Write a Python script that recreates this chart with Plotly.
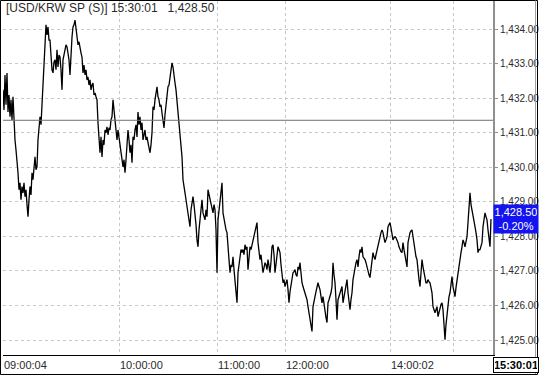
import plotly.graph_objects as go

# ---- data ----
prices = [
    1432.24, 1431.66, 1432.67, 1431.81, 1432.73, 1431.60, 1432.09, 1431.46, 1431.95, 1431.37,
    1432.04, 1431.08, 1430.79, 1430.50, 1430.22, 1429.84, 1429.35, 1429.55, 1429.06, 1429.44,
    1429.26, 1429.55, 1429.15, 1429.35, 1428.92, 1428.57, 1429.06, 1429.44, 1429.20, 1429.84,
    1429.64, 1430.07, 1430.30, 1429.93, 1430.01, 1430.79, 1431.08, 1431.46, 1431.23, 1431.86,
    1432.15, 1432.73, 1433.68, 1434.12, 1433.83, 1434.06, 1433.68, 1433.68, 1433.25, 1432.82,
    1432.73, 1433.05, 1433.11, 1432.82, 1433.40, 1432.90, 1433.25, 1433.19, 1432.82, 1432.24,
    1433.11, 1433.25, 1433.40, 1433.54, 1433.48, 1433.31, 1433.11, 1432.67, 1433.40, 1433.77,
    1434.06, 1434.12, 1434.26, 1433.97, 1433.77, 1433.54, 1433.63, 1433.40, 1433.31, 1433.19,
    1432.73, 1432.96, 1432.67, 1432.82, 1432.53, 1432.61, 1432.38, 1432.53, 1432.24, 1432.38,
    1432.44, 1432.09, 1432.15, 1432.04, 1431.95, 1431.29, 1430.79, 1430.42, 1430.88, 1430.30,
    1430.79, 1430.65, 1431.08, 1431.00, 1431.17, 1430.94, 1431.14, 1431.08, 1431.37, 1431.46,
    1431.95, 1431.66, 1431.37, 1430.94, 1430.79, 1431.08, 1430.88, 1430.59, 1430.36, 1430.22,
    1430.01, 1430.22, 1429.84, 1430.22, 1430.79, 1431.08, 1430.79, 1430.42, 1430.65, 1430.13,
    1430.88, 1430.79, 1431.08, 1431.23, 1430.88, 1431.60, 1431.23, 1431.46, 1431.08, 1431.29,
    1430.79, 1430.94, 1431.08, 1430.79, 1430.88, 1430.71, 1430.56, 1430.42, 1430.65, 1431.00,
    1431.75, 1431.66, 1431.95, 1432.09, 1432.33, 1432.04, 1431.95, 1431.75, 1431.81, 1431.57,
    1431.37, 1431.14, 1431.52, 1431.75, 1432.15, 1432.33, 1432.38, 1432.61, 1432.82, 1433.02,
    1432.90, 1432.73, 1432.44, 1432.24, 1431.95, 1431.57, 1431.29, 1431.08, 1430.79, 1430.30,
    1429.64, 1429.49, 1429.26, 1429.06, 1428.86, 1428.68, 1428.48, 1428.28, 1428.77, 1428.97,
    1429.15, 1428.92, 1428.68, 1428.34, 1427.90, 1427.70, 1428.19, 1428.48, 1428.77, 1429.06,
    1428.68, 1428.57, 1428.48, 1428.77, 1428.57, 1429.35, 1429.20, 1429.15, 1428.92, 1428.86,
    1428.68, 1428.92, 1428.77, 1428.19, 1426.95, 1428.48, 1428.77, 1428.97, 1429.20, 1429.55,
    1428.68, 1428.48, 1428.28, 1428.19, 1428.11, 1427.53, 1427.33, 1426.95, 1427.18, 1427.12,
    1427.41, 1427.04, 1426.66, 1426.46, 1426.08, 1426.95, 1427.18, 1427.41, 1427.62, 1427.53,
    1427.62, 1427.47, 1427.76, 1427.62, 1427.70, 1427.04, 1427.47, 1427.70, 1427.62, 1427.76,
    1427.90, 1428.05, 1428.19, 1428.25, 1428.40, 1427.82, 1427.62, 1427.33, 1427.47, 1427.12,
    1426.95, 1427.09, 1427.24, 1427.18, 1427.04, 1427.33, 1427.18, 1426.95, 1427.27, 1427.70,
    1427.76, 1427.47, 1426.95, 1427.27, 1427.62, 1427.70, 1427.62, 1427.53, 1427.18, 1426.84,
    1426.66, 1426.75, 1426.55, 1426.66, 1426.75, 1426.46, 1426.08, 1426.40, 1426.60, 1426.75,
    1426.95, 1426.98, 1427.04, 1426.89, 1426.84, 1427.12, 1427.04, 1427.24, 1426.89, 1426.66,
    1426.55, 1426.46, 1426.37, 1426.26, 1426.17, 1425.97, 1425.79, 1425.59, 1425.39, 1425.25,
    1425.97, 1426.17, 1426.26, 1426.40, 1426.55, 1426.66, 1426.55, 1426.46, 1426.26, 1426.08,
    1426.26, 1426.03, 1425.79, 1425.65, 1425.51, 1426.08, 1426.17, 1426.26, 1426.37, 1426.55,
    1427.24, 1426.89, 1426.66, 1426.17, 1425.59, 1426.17, 1426.26, 1426.37, 1426.46, 1426.55,
    1426.08, 1426.26, 1426.37, 1426.55, 1426.75, 1426.37, 1426.17, 1425.88, 1426.17, 1426.37,
    1426.75, 1426.95, 1427.12, 1427.24, 1427.33, 1427.12, 1427.41, 1427.62, 1427.53, 1427.70,
    1427.41, 1427.38, 1427.33, 1427.24, 1427.12, 1426.95, 1426.89, 1426.81, 1427.09, 1427.33,
    1427.53, 1427.41, 1427.33, 1427.47, 1427.62, 1427.70, 1427.82, 1427.99, 1428.11, 1428.19,
    1428.11, 1427.96, 1427.82, 1427.90, 1427.99, 1428.28, 1428.34, 1428.40, 1428.25, 1428.11,
    1427.90, 1427.96, 1427.99, 1427.96, 1427.90, 1427.82, 1427.70, 1427.62, 1427.56, 1427.53,
    1427.82, 1427.62, 1427.41, 1427.27, 1427.12, 1427.82, 1427.99, 1428.11, 1428.16, 1428.19,
    1427.99, 1427.76, 1427.53, 1427.41, 1427.33, 1426.95, 1426.75, 1426.55, 1426.95, 1427.33,
    1427.12, 1426.95, 1426.75, 1426.66, 1426.66, 1426.75, 1426.69, 1426.66, 1426.52, 1426.37,
    1425.97, 1425.88, 1425.79, 1425.88, 1425.97, 1425.68, 1425.82, 1425.97, 1426.03, 1426.08,
    1425.88, 1425.45, 1425.01, 1425.45, 1425.79, 1426.17, 1426.26, 1426.37, 1426.60, 1426.84,
    1426.55, 1426.40, 1426.26, 1426.52, 1426.75, 1426.84, 1427.09, 1427.33, 1427.53, 1427.70,
    1427.90, 1427.82, 1427.70, 1427.85, 1427.99, 1428.40, 1428.83, 1429.26, 1428.92, 1428.77,
    1428.68, 1428.48, 1428.28, 1428.11, 1427.90, 1427.53, 1427.62, 1427.62, 1427.70, 1427.82,
    1428.28, 1428.48, 1428.68, 1428.57, 1428.48, 1428.19, 1427.90, 1427.70, 1428.50,
]
prev_close = 1431.36
last_price = 1428.50
change_pct = -0.20
last_time = "15:30:01"
title_text = "[USD/KRW SP (S)] 15:30:01\u00a0\u00a0\u00a01,428.50"

time_tick_idx = [0, 116, 214, 282, 387, 450]
time_tick_labels = ["09:00:04", "10:00:00", "11:00:00", "12:00:00", "14:00:02", ""]
price_ticks = [1425, 1426, 1427, 1428, 1429, 1430, 1431, 1432, 1433, 1434]

# ---- layout geometry (pixels) ----
W, H = 539, 375
L, R, T, B = 3, 46, 1, 20
PW, PH = W - L - R, H - T - B

def px_x(px):
    return (px - L) / PW

def px_y(py):
    return (H - B - py) / PH

FONT = "Liberation Sans, Arial, sans-serif"
TXT = "#2a2a2a"

fig = go.Figure()
fig.add_trace(go.Scatter(
    x=list(range(len(prices))), y=prices, mode="lines",
    line=dict(color="#000000", width=1.3), hoverinfo="skip", showlegend=False,
))

fig.add_hline(y=prev_close, line=dict(color="#707070", width=1))

annotations = [
    dict(text=title_text, x=px_x(4), y=px_y(8), xref="paper", yref="paper",
         xanchor="left", yanchor="middle", showarrow=False,
         font=dict(family=FONT, size=12, color=TXT)),
    dict(text=f"{last_price:,.2f}<br>{change_pct:.2f}%", x=1, xref="paper", y=last_price, yref="y",
         xanchor="left", yanchor="middle", showarrow=False, align="center",
         bgcolor="#1414f0", borderpad=1, width=42,
         font=dict(family=FONT, size=11, color="#ffffff")),
    dict(text=f"<b>{last_time}</b>", x=1, xref="paper", y=px_y(364.5), yref="paper",
         xanchor="left", yanchor="middle", showarrow=False,
         bgcolor="#ffffff", bordercolor="#000000", borderwidth=1, borderpad=1, width=42,
         font=dict(family=FONT, size=11, color="#000000")),
]
for idx, lab in zip(time_tick_idx, time_tick_labels):
    if lab:
        annotations.append(dict(text=lab, x=idx, xref="x", y=px_y(364.5), yref="paper",
                                xanchor="left", yanchor="middle", showarrow=False, xshift=-1,
                                font=dict(family=FONT, size=11, color=TXT)))

shapes = [
    dict(type="line", xref="paper", yref="paper", x0=px_x(2.5), x1=px_x(2.5), y0=0, y1=1,
         line=dict(color="#000000", width=1), layer="above"),
    dict(type="rect", xref="paper", yref="paper", x0=px_x(0.5), x1=px_x(W - 1.5),
         y0=px_y(H - 0.5), y1=px_y(0.5), line=dict(color="#000000", width=1),
         fillcolor="rgba(0,0,0,0)", layer="above"),
    dict(type="line", xref="paper", yref="paper", x0=px_x(W - 3.5), x1=px_x(W - 3.5),
         y0=px_y(H - 1), y1=px_y(0.5), line=dict(color="#a0a0a0", width=1), layer="above"),
]

fig.update_layout(
    width=W, height=H, margin=dict(l=L, r=R, t=T, b=B, pad=0, autoexpand=False),
    paper_bgcolor="#ffffff", plot_bgcolor="#ffffff",
    showlegend=False, annotations=annotations, shapes=shapes,
    xaxis=dict(range=[0, 490], tickvals=time_tick_idx, showticklabels=False, ticks="",
               automargin=False,
               showgrid=True, gridcolor="#c8c8c8", griddash="dot", gridwidth=1,
               zeroline=False, showline=True, linecolor="#000000", linewidth=1),
    yaxis=dict(range=[1424.57, 1434.81], side="right", tickvals=price_ticks, tickformat=",.2f",
               ticks="outside", ticklen=3, tickcolor="#909090", automargin=False,
               tickfont=dict(family=FONT, size=10, color=TXT),
               showgrid=True, gridcolor="#c8c8c8", griddash="dot", gridwidth=1,
               zeroline=False, showline=True, linecolor="#909090", linewidth=2),
)

fig.write_html("out.html")
